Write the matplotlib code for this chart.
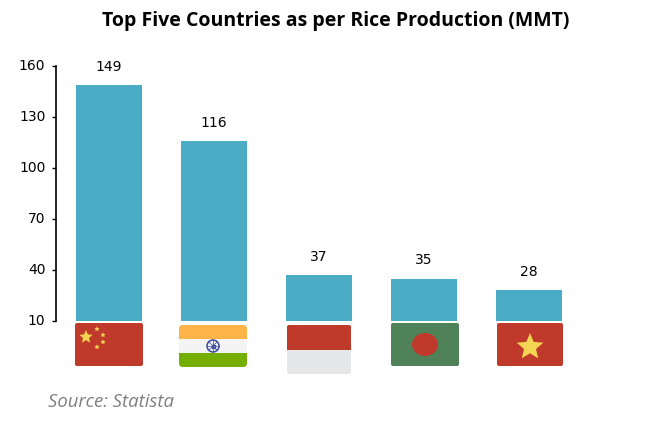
import numpy as np
import matplotlib
matplotlib.use('Agg')
import matplotlib.pyplot as plt
from matplotlib.patches import FancyBboxPatch, Rectangle, Circle, Ellipse, Polygon
from matplotlib.transforms import ScaledTranslation

plt.rcParams['font.family'] = ['DejaVu Sans']

countries = ['China', 'India', 'Indonesia', 'Bangladesh', 'Vietnam']
production = [149, 116, 37, 35, 28]
y_ticks = [10, 40, 70, 100, 130, 160]

W, H = 651, 421
BLUE = '#4aacc5'
RED = '#bf3a2b'
YELLOW = '#f4d453'
NAVY = '#3e4a9e'


def star(ax, cx, cy, r, color):
    ang = -np.pi / 2 + np.arange(10) * np.pi / 5
    rad = np.where(np.arange(10) % 2 == 0, r, r * 0.45)
    pts = np.c_[cx + rad * np.cos(ang), cy + rad * np.sin(ang)]
    ax.add_patch(Polygon(pts, facecolor=color, edgecolor='none', zorder=4))


def flag_box(ax, x0, y0, x1, y1, color='none', r=2):
    box = FancyBboxPatch((x0 + r, y0 + r), x1 - x0 - 2 * r, y1 - y0 - 2 * r,
                         boxstyle=f'round,pad={r},rounding_size={r}',
                         facecolor=color, edgecolor='none', zorder=2)
    ax.add_patch(box)
    return box


def stripe(ax, box, x0, y0, x1, y1, color):
    s = Rectangle((x0, y0), x1 - x0, y1 - y0, facecolor=color, edgecolor='none', zorder=3)
    ax.add_patch(s)
    s.set_clip_path(box)


fig = plt.figure(figsize=(W / 100, H / 100), dpi=100)
ax = fig.add_axes([56.5 / W, (H - 321) / H, (610 - 56.5) / W, (321 - 66) / H])

# bar centres sit 105 px apart, first one 52.5 px from the axis line
xs = np.arange(len(countries))
ax.set_xlim(-52.5 / 105, (610 - 56.5 - 52.5) / 105)
ax.set_ylim(10, 160)
ax.bar(xs, production, width=66 / 105, color=BLUE)
for x, v in zip(xs, production):
    ax.annotate(str(v), (x, v), xytext=(0, 8), textcoords='offset points',
                ha='center', va='bottom', fontsize=10, color='black')

ax.set_yticks(y_ticks)
ax.set_xticks([])
ax.tick_params(axis='y', length=3, width=1, pad=5, labelsize=10, colors='black')
shift = ScaledTranslation(0, 1 / 72, fig.dpi_scale_trans)
for lab in ax.get_yticklabels():
    lab.set_transform(lab.get_transform() + shift)
for s in ['top', 'right', 'bottom']:
    ax.spines[s].set_visible(False)
ax.spines['left'].set_linewidth(1.2)

# flags and texts in pixel coordinates
ov = fig.add_axes([0, 0, 1, 1])
ov.set_xlim(0, W)
ov.set_ylim(H, 0)
ov.axis('off')
ov.patch.set_alpha(0)

# China
flag_box(ov, 75, 323, 143, 366, RED)
star(ov, 86, 337, 7, YELLOW)
for px, py in [(97, 329), (103, 335), (103, 342), (97, 347)]:
    star(ov, px, py, 2.8, YELLOW)

# India
b = flag_box(ov, 179, 325, 247, 367, '#f4f4f4', r=4)
stripe(ov, b, 179, 325, 247, 339, '#fbb445')
stripe(ov, b, 179, 353, 247, 367, '#73ae00')
ov.add_patch(Circle((213, 346), 6, facecolor='none', edgecolor=NAVY, linewidth=1.1, zorder=4))
ov.add_patch(Rectangle((211.5, 344.5), 3, 3, facecolor='none', edgecolor=NAVY, linewidth=0.9, zorder=4))
for a in np.arange(4) * np.pi / 4:
    ov.plot([213 - 6 * np.cos(a), 213 + 6 * np.cos(a)], [346 - 6 * np.sin(a), 346 + 6 * np.sin(a)],
            color=NAVY, linewidth=0.5, zorder=3.5)

# Indonesia
b = flag_box(ov, 287, 325, 351, 374, '#e6e7e8')
stripe(ov, b, 287, 325, 351, 349.5, RED)

# Bangladesh
flag_box(ov, 391, 323, 459, 366, '#4f8258')
ov.add_patch(Ellipse((425, 344.5), 26, 23, facecolor=RED, edgecolor='none', zorder=4))

# Vietnam
flag_box(ov, 497, 323, 563, 366, RED)
star(ov, 530, 347, 14, YELLOW)

ov.set_xlim(0, W)
ov.set_ylim(H, 0)

ov.text(336, 21, 'Top Five Countries as per Rice Production (MMT)', ha='center', va='center',
        fontsize=14, fontweight='bold', family='Open Sans', color='black')
ov.text(48, 402, 'Source: Statista', ha='left', va='center', fontsize=13.3,
        style='italic', family='Open Sans', color='#7f7f7f')

fig.savefig('out.png', dpi=100)
